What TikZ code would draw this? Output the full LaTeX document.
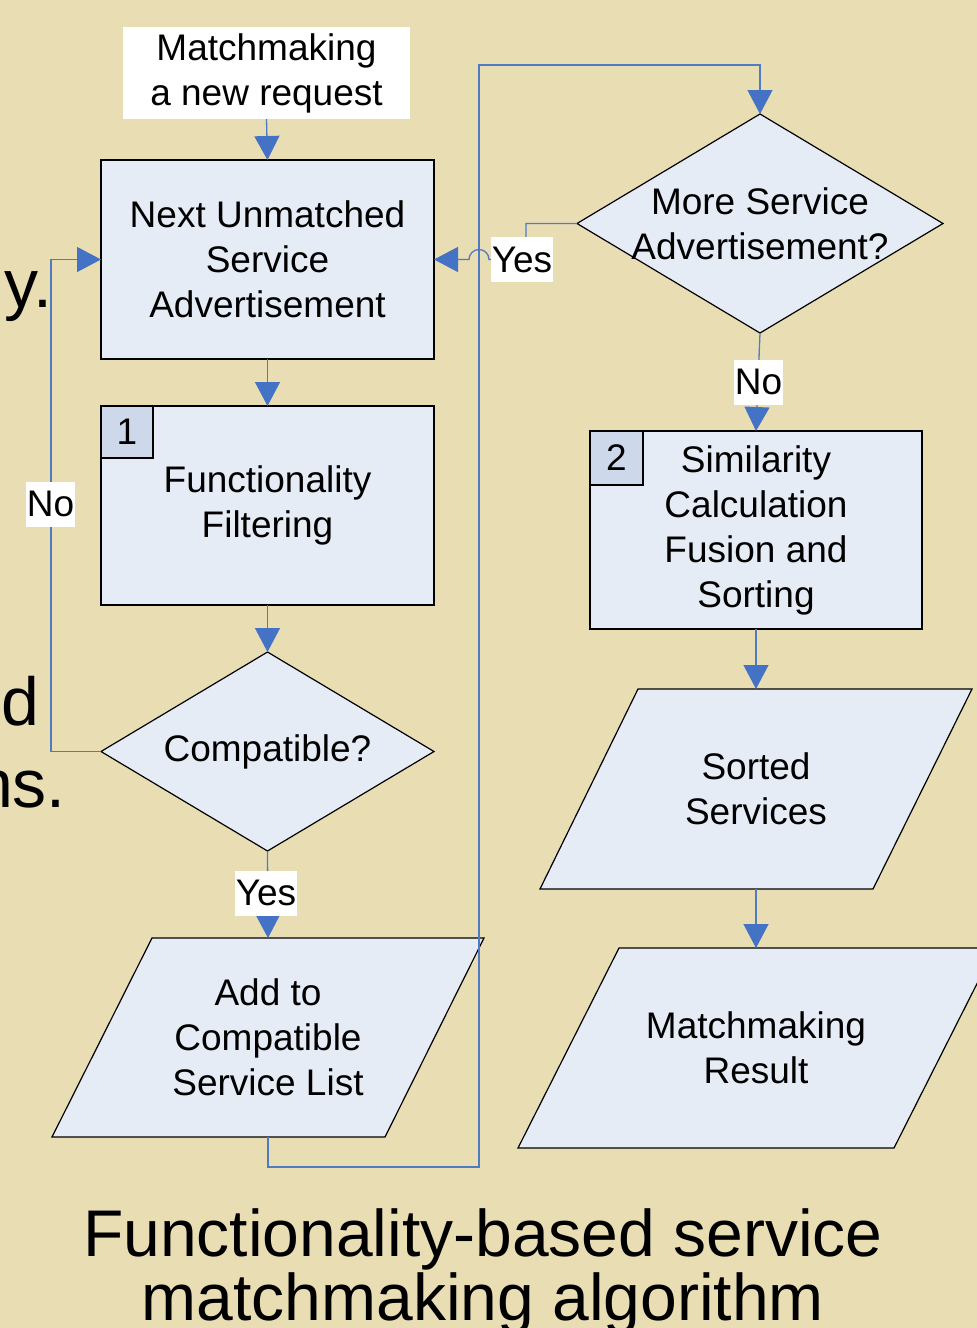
\documentclass[tikz,border=0pt]{standalone}
\usepackage{fontspec}
\setmainfont{Liberation Sans}
\usetikzlibrary{arrows.meta,shapes.geometric}
\definecolor{bg}{HTML}{E9DDB4}
\definecolor{boxfill}{HTML}{E6ECF6}
\definecolor{numfill}{HTML}{CDD8EA}
\definecolor{lineblue}{HTML}{4F7BC4}
\definecolor{tipblue}{HTML}{4472C4}
\begin{document}
\begin{tikzpicture}[x=1pt,y=-1pt,
  txt/.style={font=\fontsize{37}{45}\selectfont, align=center, text=black, inner sep=0pt},
  box/.style={draw=black, line width=1.2pt, fill=boxfill, inner sep=0pt, outer sep=0pt, txt},
  numbox/.style={draw=black, line width=1.2pt, fill=numfill, inner sep=0pt, outer sep=0pt, txt, anchor=north west},
  dia/.style={diamond, draw=black, line width=1.2pt, fill=boxfill, inner sep=0pt, outer sep=0pt},
  para/.style={draw=black, line width=1.2pt, fill=boxfill},
  anchorbox/.style={txt, outer sep=0pt},
  conn/.style={draw=lineblue, line width=1.3pt},
  arr/.style={conn, -{Triangle[length=24pt,width=25pt,color=tipblue]}},
  lbl/.style={txt, fill=white, inner xsep=1pt, minimum height=45pt},
  big/.style={font=\fontsize{68}{70}\selectfont, text=black, inner sep=0pt, anchor=base east},
]
\useasboundingbox (0,0) rectangle (977,1328);
\fill[bg] (0,0) rectangle (977,1328);

% partial body text at the left
\node[big] (ly) at (53,307) {y.};
\node[big] (ld) at (40,725) {d};
\node[big] (lns) at (66,807) {ns.};

% start
\node[txt, fill=white, minimum width=287pt, minimum height=92pt] (start) at (266.5,73) {Matchmaking\\a new request};

% left column
\node[box, minimum width=333pt, minimum height=199pt] (A) at (267.5,259.5) {Next Unmatched\\Service\\Advertisement};
\node[box, minimum width=333pt, minimum height=199pt] (B) at (267.5,505.5) {Functionality\\Filtering};
\node[numbox, minimum width=52pt, minimum height=52pt] (n1) at (B.north west) {1};
\node[dia, minimum width=333pt, minimum height=199pt] (comp) at (267.5,751.5) {};
\node[txt] (compt) at (comp.center) {Compatible?};
\filldraw[para] (152,938) -- (484,938) -- (385,1137) -- (52,1137) -- cycle;
\node[anchorbox, minimum width=230pt, minimum height=199pt] (F) at (268,1037.5) {Add to\\Compatible\\Service List};

% right column
\node[dia, minimum width=366pt, minimum height=219pt] (more) at (760,223.5) {};
\node[txt] (moret) at (more.center) {More Service\\Advertisement?};
\node[box, minimum width=332pt, minimum height=198pt] (C) at (756,530) {Similarity\\Calculation\\Fusion and\\Sorting};
\node[numbox, minimum width=53pt, minimum height=54pt] (n2) at (C.north west) {2};
\filldraw[para] (638,689) -- (972,689) -- (873,889) -- (540,889) -- cycle;
\node[anchorbox, minimum width=230pt, minimum height=200pt] (D) at (756,789) {Sorted\\Services};
\filldraw[para] (619,948) -- (995,948) -- (894,1148) -- (518,1148) -- cycle;
\node[anchorbox, minimum width=260pt, minimum height=200pt] (E) at (756,1048) {Matchmaking\\Result};

% connectors
\coordinate (t1) at (479,1167);
\coordinate (t2) at (479,65);
\coordinate (y1) at (526,223.5);
\coordinate (y2) at (526,259.5);
\coordinate (h1) at (489,259.5);
\coordinate (l1) at (51,751.5);

\draw[arr] (start.south) -- (A.north);
\draw[arr] (A.south) -- (B.north);
\draw[arr] (B.south) -- (comp.north);
\draw[arr] (comp.south) -- (F.north);
\draw[arr] (F.south) |- (t1) -- (t2) -| (more.north);
\draw[arr] (more.west) -- (y1) -- (y2) -- (h1) arc[start angle=0, end angle=-180, radius=10] -- (A.east);
\draw[arr] (more.south) -- (C.north);
\draw[arr] (C.south) -- (D.north);
\draw[arr] (D.south) -- (E.north);
\draw[arr] (comp.west) -- (l1) |- (A.west);

% labels
\node[lbl] (yes1) at (266,893) {Yes};
\node[lbl] (yes2) at (522,259.5) {Yes};
\node[lbl] (no1) at (758.5,382) {No};
\node[lbl] (no2) at (50.5,504) {No};

% title
\node[font=\fontsize{66}{64}\selectfont, align=center, text=black, inner sep=0pt, anchor=north] (title) at (483,1208) {Functionality-based service\\matchmaking algorithm};
\end{tikzpicture}
\end{document}
